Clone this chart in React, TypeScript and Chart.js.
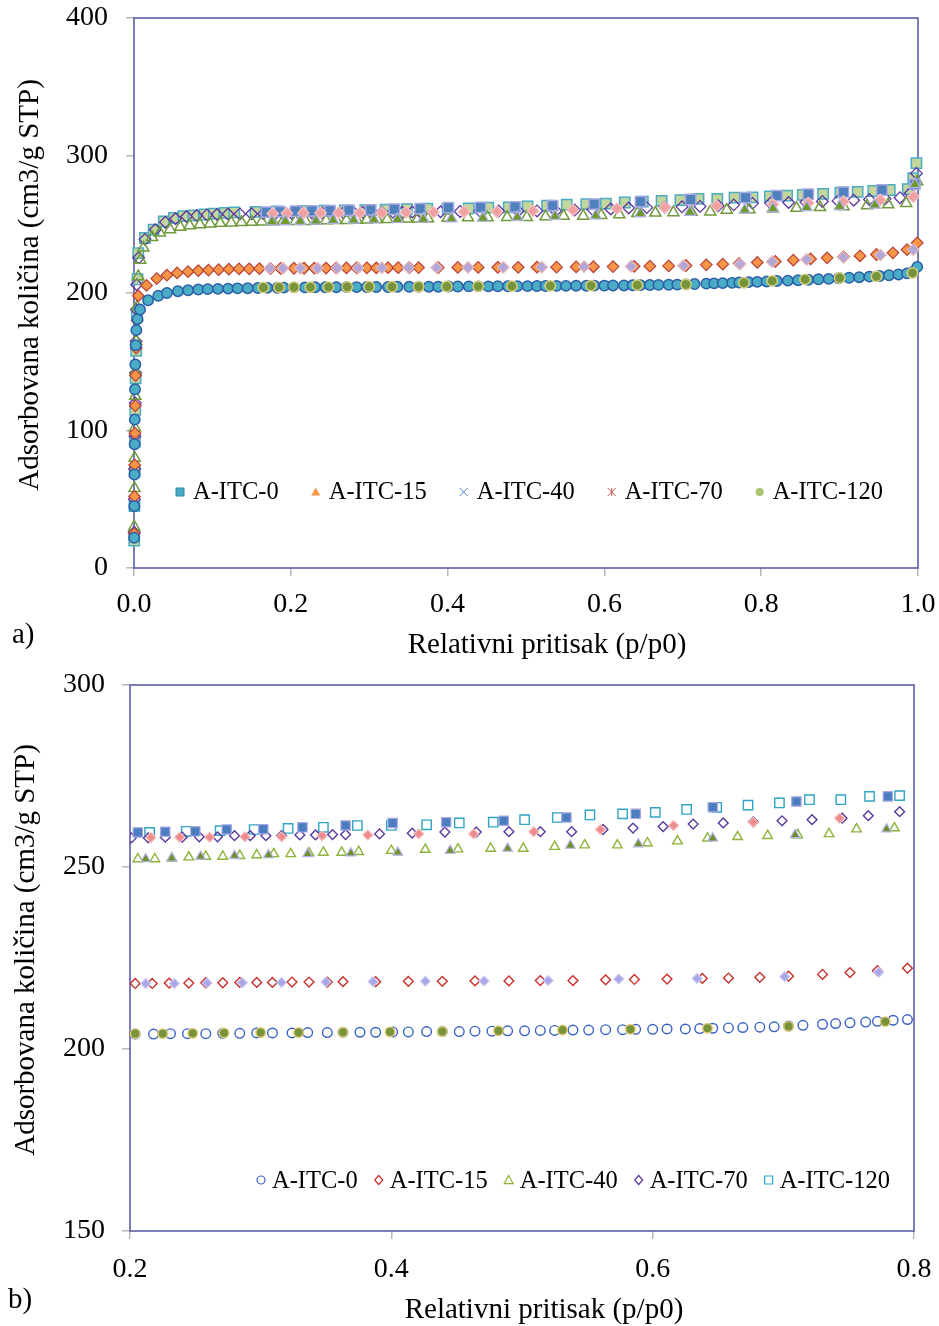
import React, { useEffect, useRef } from 'react';
import { Chart, registerables } from 'chart.js';

Chart.register(...registerables);

const FONT = "'Liberation Serif', 'Times New Roman', serif";

type Pt = [number, number];

// ---------------- DATA ----------------
const SERIES = ['A-ITC-0', 'A-ITC-15', 'A-ITC-40', 'A-ITC-70', 'A-ITC-120'];

const X_TITLE = 'Relativni pritisak (p/p0)';
const Y_TITLE = 'Adsorbovana količina (cm3/g STP)';

const TOP_X_TICKS = { min: 0, max: 1, step: 0.2 };
const TOP_Y_TICKS = { min: 0, max: 400, step: 100 };
const BOT_X_TICKS = { min: 0.2, max: 0.8, step: 0.2 };
const BOT_Y_TICKS = { min: 150, max: 300, step: 50 };

// adsorption / desorption branches, [p/p0, amount]
const ITC0_ADS: Pt[] = [
  [0.0002, 22], [0.0004, 45], [0.0006, 68], [0.0008, 90], [0.001, 108], [0.0013, 130], [0.0017, 148], [0.0022, 162],
  [0.003, 173], [0.0045, 181], [0.0077, 188], [0.018, 194.7], [0.031, 198], [0.042, 200], [0.056, 201.3], [0.069, 202.0],
  [0.082, 202.5], [0.094, 202.8], [0.107, 203.0], [0.12, 203.2], [0.132, 203.4], [0.145, 203.5], [0.158, 203.6],
  [0.17, 203.7], [0.183, 203.8], [0.191, 203.9],
  [0.204, 204.1], [0.218, 204.1], [0.231, 204.2], [0.244, 204.2], [0.258, 204.2], [0.271, 204.3], [0.284, 204.3],
  [0.297, 204.4], [0.309, 204.4], [0.324, 204.4], [0.336, 204.5], [0.351, 204.5], [0.363, 204.6], [0.376, 204.6],
  [0.388, 204.6], [0.401, 204.7], [0.413, 204.7], [0.427, 204.8], [0.439, 204.8], [0.452, 204.8], [0.464, 204.9],
  [0.477, 204.9], [0.489, 205.0], [0.502, 205.0], [0.514, 205.1], [0.525, 205.1], [0.539, 205.2], [0.551, 205.2],
  [0.564, 205.3], [0.577, 205.3], [0.587, 205.4], [0.6, 205.4], [0.611, 205.5], [0.625, 205.5], [0.636, 205.6],
  [0.646, 205.7], [0.658, 205.8], [0.669, 205.9], [0.682, 206.0], [0.693, 206.1], [0.704, 206.3], [0.715, 206.5],
  [0.73, 206.8], [0.74, 207.0], [0.751, 207.2], [0.763, 207.4], [0.772, 207.6], [0.784, 207.9], [0.795, 208.1],
  [0.807, 208.4], [0.82, 208.7], [0.834, 209.0], [0.847, 209.3], [0.86, 209.6], [0.873, 210.0], [0.886, 210.3],
  [0.899, 210.7], [0.912, 211.1], [0.925, 211.5], [0.938, 211.9], [0.951, 212.4], [0.963, 212.9], [0.975, 213.5],
  [0.986, 214.3], [0.994, 215.5], [0.999, 219.0],
];
const ITC0_DES: Pt[] = [
  [0.165, 204.0], [0.185, 204.1], [0.204, 204.2], [0.225, 204.2], [0.248, 204.3], [0.272, 204.4], [0.3, 204.5],
  [0.329, 204.5], [0.363, 204.6], [0.399, 204.7], [0.439, 204.8], [0.482, 205.0], [0.531, 205.2], [0.583, 205.4],
  [0.642, 205.7], [0.704, 206.2], [0.778, 207.5], [0.814, 208.8], [0.856, 209.9], [0.9, 210.9], [0.947, 212.1],
  [0.993, 214.6],
];

const ITC15_ADS: Pt[] = [
  [0.0003, 25], [0.0006, 52], [0.0009, 75], [0.0012, 98], [0.0016, 118], [0.002, 140], [0.0028, 160], [0.004, 180],
  [0.0055, 198], [0.016, 205.5], [0.029, 210.5], [0.042, 213.0], [0.055, 214.6], [0.069, 215.5], [0.082, 216.2],
  [0.095, 216.7], [0.108, 217.0], [0.121, 217.3], [0.134, 217.5], [0.147, 217.6], [0.16, 217.7], [0.174, 217.8],
  [0.187, 217.9],
  [0.204, 218.0], [0.217, 218.0], [0.23, 218.1], [0.245, 218.1], [0.258, 218.2], [0.271, 218.2], [0.284, 218.3],
  [0.297, 218.3], [0.309, 218.3], [0.324, 218.4], [0.337, 218.4], [0.351, 218.4], [0.363, 218.5], [0.388, 218.5],
  [0.413, 218.6], [0.439, 218.6], [0.464, 218.7], [0.49, 218.7], [0.514, 218.8], [0.539, 218.8], [0.564, 219.0],
  [0.586, 219.1], [0.611, 219.2], [0.638, 219.4], [0.658, 219.5], [0.682, 219.7], [0.704, 220.0], [0.73, 220.5],
  [0.751, 221.0], [0.772, 221.5], [0.795, 222.2],
  [0.818, 223.0], [0.841, 223.9], [0.863, 224.8], [0.884, 225.6], [0.905, 226.3], [0.926, 227.0], [0.947, 228.0],
  [0.968, 229.2], [0.986, 231.5], [0.999, 236.5],
];
const ITC15_DES: Pt[] = [
  [0.173, 217.9], [0.19, 218.0], [0.212, 218.0], [0.234, 218.0], [0.259, 218.1], [0.286, 218.2], [0.316, 218.3],
  [0.35, 218.4], [0.386, 218.5], [0.426, 218.6], [0.471, 218.7], [0.52, 218.8], [0.574, 219.2], [0.634, 219.4],
  [0.701, 219.9], [0.773, 221.1], [0.814, 222.8], [0.858, 224.4], [0.905, 225.9], [0.952, 227.6], [0.994, 231.6],
];

const ITC40_ADS: Pt[] = [
  [0.0003, 30], [0.0006, 58], [0.0009, 80], [0.0012, 102], [0.0016, 125], [0.002, 143], [0.0028, 165], [0.004, 190],
  [0.0055, 212], [0.008, 224], [0.012, 232.8], [0.023, 240.5], [0.033, 243.8], [0.046, 246.2], [0.059, 248.0],
  [0.071, 249.0], [0.084, 249.8], [0.097, 250.4], [0.11, 250.8], [0.124, 251.1], [0.137, 251.4], [0.15, 251.6],
  [0.163, 251.8], [0.177, 252.0], [0.19, 252.1],
  [0.206, 252.2], [0.219, 252.2], [0.232, 252.4], [0.245, 252.7], [0.258, 252.9], [0.271, 252.9], [0.284, 253.1],
  [0.297, 253.3], [0.31, 253.6], [0.323, 253.6], [0.337, 253.8], [0.348, 254.0], [0.362, 254.0], [0.375, 254.2],
  [0.4, 254.5], [0.426, 254.8], [0.451, 254.9], [0.476, 255.1], [0.501, 255.1], [0.525, 255.6], [0.548, 256.0],
  [0.573, 256.0], [0.596, 256.6], [0.619, 257.1], [0.642, 257.9], [0.665, 258.3], [0.688, 258.6], [0.711, 258.8],
  [0.735, 259.1], [0.756, 260.4],
  [0.785, 260.7], [0.815, 261.2], [0.845, 261.7], [0.875, 262.3], [0.905, 262.9], [0.935, 263.6], [0.962, 264.4],
  [0.985, 265.3], [0.999, 281.0],
];
const ITC40_DES: Pt[] = [
  [0.176, 251.9], [0.193, 252.1], [0.212, 252.2], [0.232, 252.4], [0.254, 252.9], [0.28, 253.1], [0.306, 253.3],
  [0.336, 253.6], [0.369, 253.8], [0.405, 254.0], [0.445, 254.5], [0.489, 255.1], [0.537, 255.9], [0.589, 256.3],
  [0.646, 257.9], [0.709, 258.8], [0.779, 260.4], [0.815, 261.4], [0.858, 262.2], [0.9, 263.0], [0.945, 264.0],
  [0.996, 279.0],
];

const ITC70_ADS: Pt[] = [
  [0.0003, 26], [0.0006, 50], [0.0009, 72], [0.0012, 96], [0.0016, 120], [0.002, 142], [0.0026, 165], [0.003, 188],
  [0.0034, 206], [0.006, 225.6], [0.014, 239.0], [0.027, 246.0], [0.04, 251.5], [0.053, 254.0], [0.067, 255.6],
  [0.08, 256.3], [0.093, 256.8], [0.106, 257.1], [0.12, 257.4], [0.135, 257.5], [0.15, 257.6], [0.165, 257.7],
  [0.18, 257.8], [0.19, 257.9],
  [0.201, 258.0], [0.214, 258.0], [0.227, 258.2], [0.24, 258.2], [0.253, 258.3], [0.267, 258.3], [0.28, 258.6],
  [0.292, 258.6], [0.304, 258.6], [0.316, 258.6], [0.33, 258.8], [0.342, 258.8], [0.355, 258.9], [0.365, 258.9],
  [0.391, 259.1], [0.416, 259.3], [0.441, 259.6], [0.465, 259.6], [0.49, 259.7], [0.514, 259.7], [0.538, 259.7],
  [0.562, 260.3], [0.585, 260.7], [0.608, 261.1], [0.631, 261.8], [0.654, 262.1], [0.677, 262.4], [0.699, 262.7],
  [0.722, 263.0], [0.745, 263.4], [0.765, 264.1], [0.789, 265.2],
  [0.812, 265.4], [0.835, 265.8], [0.857, 266.2], [0.878, 266.6], [0.898, 267.0], [0.918, 267.5], [0.938, 268.0],
  [0.958, 268.5], [0.977, 269.3], [0.99, 272.5], [0.998, 287.0],
];
const ITC70_DES: Pt[] = [
  [0.177, 257.8], [0.195, 258.0], [0.216, 258.1], [0.238, 258.2], [0.261, 258.2], [0.288, 258.3], [0.316, 258.3],
  [0.347, 258.6], [0.382, 258.8], [0.421, 259.1], [0.463, 259.1], [0.509, 259.7], [0.56, 260.3], [0.616, 261.4],
  [0.677, 262.3], [0.743, 263.4], [0.815, 264.4], [0.86, 265.4], [0.905, 266.4], [0.952, 267.7], [0.994, 270.0],
];

const ITC120_ADS: Pt[] = [
  [0.0003, 20], [0.0006, 45], [0.0009, 70], [0.0012, 92], [0.0016, 115], [0.002, 138], [0.0028, 158], [0.0036, 185],
  [0.0045, 210], [0.0055, 229], [0.014, 240], [0.025, 246], [0.038, 252], [0.051, 254.7], [0.063, 255.9],
  [0.076, 256.5], [0.09, 257.1], [0.102, 257.7], [0.116, 258.2], [0.128, 258.6], [0.155, 259.0], [0.182, 259.3],
  [0.215, 259.5], [0.243, 259.8], [0.269, 260.0], [0.295, 260.3], [0.321, 260.6], [0.348, 260.9], [0.374, 261.4],
  [0.4, 261.4], [0.427, 261.6], [0.452, 262.1], [0.478, 262.3], [0.502, 263.0], [0.527, 263.6], [0.552, 264.3],
  [0.577, 264.6], [0.602, 265.0], [0.626, 265.8], [0.649, 266.4], [0.673, 267.0], [0.697, 267.6], [0.72, 268.5],
  [0.744, 268.5], [0.766, 269.4], [0.789, 269.6],
  [0.811, 270.3], [0.833, 270.8], [0.853, 271.4], [0.879, 272.1], [0.901, 273.0], [0.923, 273.6], [0.943, 274.2],
  [0.964, 274.9], [0.987, 275.6], [0.994, 283.5], [0.998, 294.5],
];
const ITC120_DES: Pt[] = [
  [0.169, 258.8], [0.186, 259.2], [0.206, 259.5], [0.227, 259.7], [0.25, 259.8], [0.274, 260.3], [0.302, 260.4],
  [0.332, 260.9], [0.365, 261.4], [0.401, 262.1], [0.442, 262.3], [0.486, 262.7], [0.534, 263.6], [0.587, 264.6],
  [0.646, 266.4], [0.71, 268.0], [0.78, 269.4], [0.82, 270.8], [0.86, 271.9], [0.905, 273.3], [0.954, 274.9],
  [0.996, 279.0],
];

const ADS: Pt[][] = [ITC0_ADS, ITC15_ADS, ITC40_ADS, ITC70_ADS, ITC120_ADS];
const DES: Pt[][] = [ITC0_DES, ITC15_DES, ITC40_DES, ITC70_DES, ITC120_DES];

// ---------------- STYLES ----------------
type Mk = { shape: string; r: number; fill: string; stroke: string; lw: number };

const TOP_ADS_STYLE: Mk[] = [
  { shape: 'circle', r: 5.2, fill: '#4bacc6', stroke: '#2a5fa8', lw: 1.5 },
  { shape: 'rectRot', r: 5.8, fill: '#f79646', stroke: '#b8403a', lw: 1.2 },
  { shape: 'triangle', r: 6.4, fill: 'rgba(255,255,255,0)', stroke: '#6f9a3a', lw: 1.5 },
  { shape: 'rectRot', r: 5.8, fill: 'rgba(255,255,255,0)', stroke: '#5e36a0', lw: 1.3 },
  { shape: 'rect', r: 7.3, fill: '#c3d69b', stroke: '#4bacc6', lw: 1.5 },
];
const TOP_DES_STYLE: Mk[] = [
  { shape: 'circle', r: 5.2, fill: '#77933c', stroke: '#d8cf7a', lw: 1.5 },
  { shape: 'rectRot', r: 5.8, fill: '#b3a6d8', stroke: '#e8b8b8', lw: 1.2 },
  { shape: 'triangle', r: 6.4, fill: '#6f9a2a', stroke: '#b0b0ec', lw: 1.2 },
  { shape: 'rectRot', r: 5.8, fill: '#f0a0a0', stroke: '#f6c2c2', lw: 1.2 },
  { shape: 'rect', r: 7.3, fill: '#4f81bd', stroke: '#a8a8e2', lw: 1.5 },
];
const BOT_ADS_STYLE: Mk[] = [
  { shape: 'circle', r: 4.8, fill: 'rgba(255,255,255,0)', stroke: '#3a62c4', lw: 1.4 },
  { shape: 'rectRot', r: 4.9, fill: 'rgba(255,255,255,0)', stroke: '#c8302c', lw: 1.4 },
  { shape: 'triangle', r: 5.5, fill: 'rgba(255,255,255,0)', stroke: '#8db33a', lw: 1.4 },
  { shape: 'rectRot', r: 4.9, fill: 'rgba(255,255,255,0)', stroke: '#5b3a9e', lw: 1.4 },
  { shape: 'rect', r: 6.6, fill: 'rgba(255,255,255,0)', stroke: '#2fa4c4', lw: 1.4 },
];
const BOT_DES_STYLE: Mk[] = [
  { shape: 'circle', r: 4.8, fill: '#77933c', stroke: '#e6cf78', lw: 1.4 },
  { shape: 'rectRot', r: 4.9, fill: '#a8a8e8', stroke: '#c8c8f2', lw: 1.2 },
  { shape: 'triangle', r: 5.5, fill: '#6f8f2a', stroke: '#b2b2ec', lw: 1.2 },
  { shape: 'rectRot', r: 4.9, fill: '#ee8c8c', stroke: '#f6b8b8', lw: 1.2 },
  { shape: 'rect', r: 6.6, fill: '#4a7ec0', stroke: '#a8a8e2', lw: 1.2 },
];

type LMk = { shape: string; size: number; fill: string | null; stroke: string | null; lw: number };
const TOP_LEGEND_MARK: LMk[] = [
  { shape: 'rect', size: 8, fill: '#4bacc6', stroke: '#2f88a8', lw: 1 },
  { shape: 'triangle', size: 9, fill: '#f79646', stroke: null, lw: 1 },
  { shape: 'cross', size: 8, fill: null, stroke: '#4f81bd', lw: 1 },
  { shape: 'asterisk', size: 8, fill: null, stroke: '#c0504d', lw: 1 },
  { shape: 'circle', size: 8, fill: '#a9c46c', stroke: null, lw: 1 },
];
const BOT_LEGEND_MARK: LMk[] = [
  { shape: 'circle', size: 8, fill: null, stroke: '#3a62c4', lw: 1.2 },
  { shape: 'diamond', size: 9, fill: null, stroke: '#c8302c', lw: 1.2 },
  { shape: 'triangle', size: 9, fill: null, stroke: '#8db33a', lw: 1.2 },
  { shape: 'diamond', size: 9, fill: null, stroke: '#5b3a9e', lw: 1.2 },
  { shape: 'rect', size: 8, fill: null, stroke: '#2fa4c4', lw: 1.2 },
];

function drawMarker(ctx: CanvasRenderingContext2D, m: LMk, x: number, y: number) {
  const h = m.size / 2;
  ctx.beginPath();
  switch (m.shape) {
    case 'rect':
      ctx.rect(x - h, y - h, m.size, m.size);
      break;
    case 'circle':
      ctx.arc(x, y, h, 0, Math.PI * 2);
      break;
    case 'triangle':
      ctx.moveTo(x, y - h);
      ctx.lineTo(x + h, y + h * 0.8);
      ctx.lineTo(x - h, y + h * 0.8);
      ctx.closePath();
      break;
    case 'diamond':
      ctx.moveTo(x, y - h);
      ctx.lineTo(x + h * 0.9, y);
      ctx.lineTo(x, y + h);
      ctx.lineTo(x - h * 0.9, y);
      ctx.closePath();
      break;
    case 'cross':
      ctx.moveTo(x - h, y - h);
      ctx.lineTo(x + h, y + h);
      ctx.moveTo(x + h, y - h);
      ctx.lineTo(x - h, y + h);
      break;
    case 'asterisk':
      ctx.moveTo(x - h, y - h);
      ctx.lineTo(x + h, y + h);
      ctx.moveTo(x + h, y - h);
      ctx.lineTo(x - h, y + h);
      ctx.moveTo(x, y - h);
      ctx.lineTo(x, y + h);
      break;
  }
  if (m.fill) {
    ctx.fillStyle = m.fill;
    ctx.fill();
  }
  if (m.stroke) {
    ctx.strokeStyle = m.stroke;
    ctx.lineWidth = m.lw;
    ctx.stroke();
  }
}

const framePlugin = {
  id: 'frame',
  beforeDatasetsDraw(chart: any, _a: any, opts: any) {
    const { left, top, right, bottom } = chart.chartArea;
    const ctx = chart.ctx;
    ctx.save();
    ctx.strokeStyle = opts.color;
    ctx.lineWidth = opts.width;
    ctx.strokeRect(left, top, right - left, bottom - top);
    ctx.restore();
  },
};

const textPlugin = {
  id: 'texts',
  afterDraw(chart: any, _a: any, opts: any) {
    const ctx = chart.ctx;
    ctx.save();
    ctx.fillStyle = '#000';
    ctx.textBaseline = 'middle';
    for (const t of opts.items) {
      ctx.font = `${t.size}px ${FONT}`;
      ctx.textAlign = t.align || 'center';
      ctx.save();
      ctx.translate(t.x, t.y);
      if (t.rot) ctx.rotate(t.rot);
      ctx.fillText(t.text, 0, 0);
      ctx.restore();
    }
    ctx.restore();
  },
};

const legendPlugin = {
  id: 'inlegend',
  afterDraw(chart: any, _a: any, opts: any) {
    const ctx = chart.ctx;
    ctx.save();
    ctx.font = `${opts.size}px ${FONT}`;
    ctx.textBaseline = 'middle';
    ctx.textAlign = 'left';
    let x = opts.x0;
    opts.labels.forEach((label: string, i: number) => {
      drawMarker(ctx, opts.marks[i], x, opts.y + opts.markDy);
      const tx = x + opts.markToText;
      ctx.fillStyle = '#000';
      ctx.fillText(label, tx, opts.y);
      x = tx + ctx.measureText(label).width + opts.gap;
    });
    ctx.restore();
  },
};

function makeDataset(label: string, data: Pt[], st: Mk, clip: any) {
  return {
    label,
    data: data.map(([x, y]) => ({ x, y })),
    showLine: false,
    pointStyle: st.shape,
    pointRadius: st.r,
    pointHoverRadius: st.r,
    pointBackgroundColor: st.fill,
    pointBorderColor: st.stroke,
    pointBorderWidth: st.lw,
    clip,
  };
}

type PanelCfg = {
  height: number;
  xt: { min: number; max: number; step: number };
  yt: { min: number; max: number; step: number };
  adsStyle: Mk[];
  desStyle: Mk[];
  clip: any;
  padding: { top: number; right: number; bottom: number; left: number };
  yWidth: number;
  xHeight: number;
  yPad: number;
  xPad: number;
  texts: any[];
  legend: any;
};

function buildConfig(p: PanelCfg): any {
  const datasets: any[] = [];
  DES.forEach((d, i) => datasets.push(makeDataset(SERIES[i] + ' des', d, p.desStyle[i], p.clip)));
  ADS.forEach((d, i) => datasets.push(makeDataset(SERIES[i], d, p.adsStyle[i], p.clip)));
  const tickFont = { family: FONT, size: 28 };
  const grid = { drawOnChartArea: false, drawTicks: true, tickLength: 8, color: '#b8b8b8', lineWidth: 1.5 };
  return {
    type: 'scatter',
    data: { datasets },
    options: {
      responsive: false,
      animation: false,
      devicePixelRatio: 1,
      events: [],
      layout: { padding: p.padding },
      plugins: {
        legend: { display: false },
        tooltip: { enabled: false },
        frame: { color: '#5c5ca8', width: 1.6 },
        texts: { items: p.texts },
        inlegend: p.legend,
      },
      scales: {
        x: {
          type: 'linear',
          min: p.xt.min,
          max: p.xt.max,
          ticks: {
            stepSize: p.xt.step,
            callback: (v: any) => Number(v).toFixed(1),
            font: tickFont,
            color: '#000',
            padding: p.xPad,
            maxRotation: 0,
            autoSkip: false,
          },
          grid,
          border: { display: false },
          afterFit: (s: any) => {
            s.height = p.xHeight;
            s.paddingLeft = 0;
            s.paddingRight = 0;
          },
        },
        y: {
          type: 'linear',
          min: p.yt.min,
          max: p.yt.max,
          ticks: { stepSize: p.yt.step, font: tickFont, color: '#000', padding: p.yPad },
          grid,
          border: { display: false },
          afterFit: (s: any) => {
            s.width = p.yWidth;
            s.paddingTop = 0;
            s.paddingBottom = 0;
          },
        },
      },
    },
    plugins: [framePlugin, textPlugin, legendPlugin],
  };
}

const TOP_PANEL: PanelCfg = {
  height: 665,
  xt: TOP_X_TICKS,
  yt: TOP_Y_TICKS,
  adsStyle: TOP_ADS_STYLE,
  desStyle: TOP_DES_STYLE,
  clip: 10,
  padding: { top: 18, right: 21, bottom: 0, left: 0 },
  yWidth: 134,
  xHeight: 97,
  yPad: 18,
  xPad: 12,
  texts: [
    { text: X_TITLE, x: 547, y: 645, size: 29 },
    { text: Y_TITLE, x: 30, y: 285, size: 29, rot: -Math.PI / 2 },
    { text: 'a)', x: 12, y: 635, size: 29, align: 'left' },
  ],
  legend: { labels: SERIES, marks: TOP_LEGEND_MARK, x0: 180, y: 493, markDy: -1, markToText: 13, gap: 37, size: 24.5 },
};

const BOT_PANEL: PanelCfg = {
  height: 661,
  xt: BOT_X_TICKS,
  yt: BOT_Y_TICKS,
  adsStyle: BOT_ADS_STYLE,
  desStyle: BOT_DES_STYLE,
  clip: 0,
  padding: { top: 20, right: 25, bottom: 0, left: 0 },
  yWidth: 130,
  xHeight: 95,
  yPad: 17,
  xPad: 14,
  texts: [
    { text: X_TITLE, x: 544, y: 645, size: 29 },
    { text: Y_TITLE, x: 26, y: 285, size: 29, rot: -Math.PI / 2 },
    { text: 'b)', x: 8, y: 635, size: 29, align: 'left' },
  ],
  legend: { labels: SERIES, marks: BOT_LEGEND_MARK, x0: 261, y: 517, markDy: -2, markToText: 11, gap: 21, size: 24.5 },
};

function Panel({ cfg, top }: { cfg: PanelCfg; top: number }) {
  const ref = useRef<HTMLCanvasElement>(null);
  useEffect(() => {
    const chart = new Chart(ref.current as HTMLCanvasElement, buildConfig(cfg));
    return () => chart.destroy();
  }, [cfg]);
  return (
    <canvas
      ref={ref}
      width={939}
      height={cfg.height}
      style={{ position: 'absolute', left: 0, top, width: 939, height: cfg.height }}
    />
  );
}

export default function App() {
  return (
    <div style={{ position: 'absolute', left: 0, top: 0, width: 939, height: 1326, background: '#fff' }}>
      <Panel cfg={TOP_PANEL} top={0} />
      <Panel cfg={BOT_PANEL} top={665} />
    </div>
  );
}
